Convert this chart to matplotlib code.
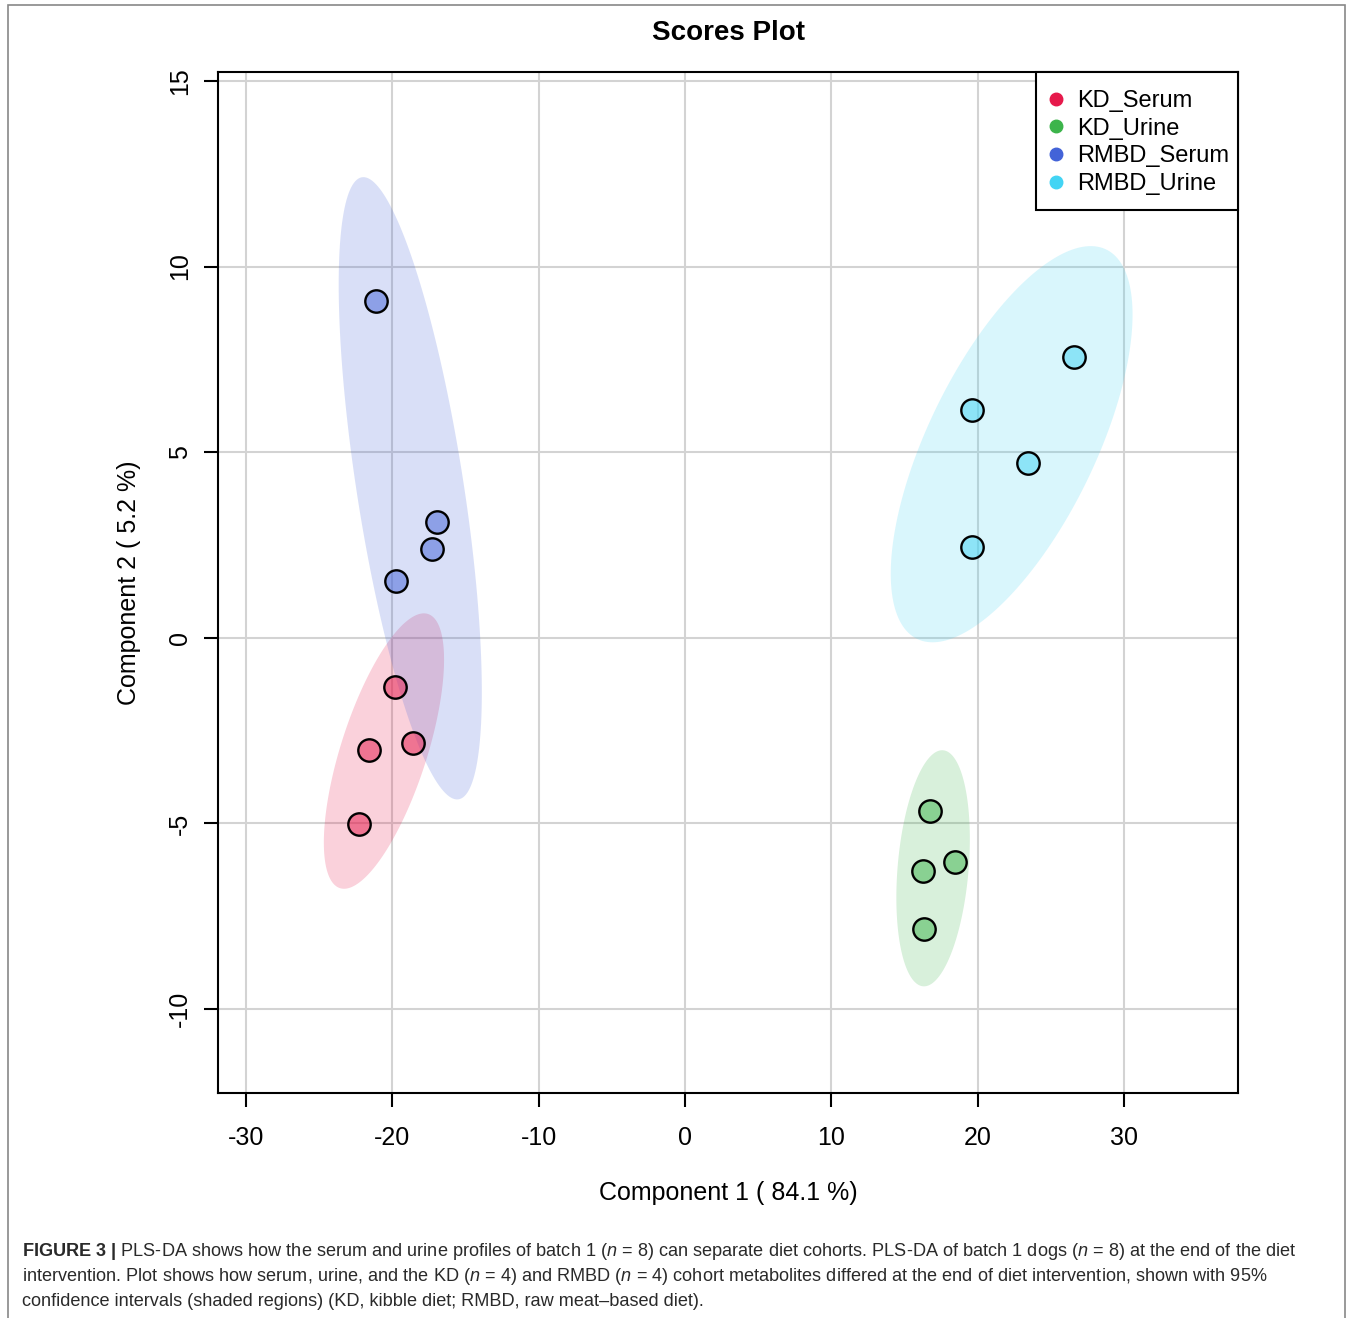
import numpy as np
import matplotlib
matplotlib.use("Agg")
import matplotlib.pyplot as plt
from matplotlib import font_manager as fm
from matplotlib.patches import Rectangle
from matplotlib.lines import Line2D

# ---- data ----
groups = ["KD_Serum", "KD_Urine", "RMBD_Serum", "RMBD_Urine"]
colors = ["#E6194B", "#3CB44B", "#4363D8", "#42D4F4"]
kd_serum_x = [-19.82, -21.59, -18.59, -22.28]
kd_serum_y = [-1.33, -3.02, -2.83, -5.02]
kd_urine_x = [16.75, 18.46, 16.27, 16.34]
kd_urine_y = [-4.67, -6.04, -6.28, -7.84]
rmbd_serum_x = [-21.11, -16.94, -17.29, -19.75]
rmbd_serum_y = [9.07, 3.12, 2.39, 1.53]
rmbd_urine_x = [26.6, 19.62, 23.45, 19.62]
rmbd_urine_y = [7.56, 6.14, 4.71, 2.45]
xticks = [-30, -20, -10, 0, 10, 20, 30]
yticks = [-10, -5, 0, 5, 10, 15]
title = "Scores Plot"
xlabel = "Component 1 ( 84.1 %)"
ylabel = "Component 2 ( 5.2 %)"

series_x = [kd_serum_x, kd_urine_x, rmbd_serum_x, rmbd_urine_x]
series_y = [kd_serum_y, kd_urine_y, rmbd_serum_y, rmbd_urine_y]

names = {f.name for f in fm.fontManager.ttflist}
main_font = "Liberation Sans" if "Liberation Sans" in names else "DejaVu Sans"
cap_font = "Liberation Sans Narrow" if "Liberation Sans Narrow" in names else main_font
plt.rcParams["font.family"] = [main_font, "DejaVu Sans"]
plt.rcParams["axes.unicode_minus"] = False

W, H = 1347, 1318
fig = plt.figure(figsize=(W/100, H/100), dpi=100)
ax = fig.add_axes([218/W, 1-1093/H, (1238-218)/W, (1093-72)/H])

ax.set_xlim(-31.91, 37.79)
ax.set_ylim(-12.26, 15.24)

for v in xticks:
    ax.axvline(v, color="#D3D3D3", lw=1.5, zorder=0)
for v in yticks:
    ax.axhline(v, color="#D3D3D3", lw=1.5, zorder=0)

t = np.sqrt(-2*np.log(1-0.95))  # sqrt(qchisq(0.95, 2))
theta = np.linspace(0, 2*np.pi, 200)
for xs, ys, c in zip(series_x, series_y, colors):
    pts = np.column_stack([xs, ys])
    mu = pts.mean(axis=0)
    cov = np.cov(pts.T)
    w, v = np.linalg.eigh(cov)
    circ = np.vstack([np.cos(theta), np.sin(theta)])
    ell = (v @ np.diag(np.sqrt(w)) @ circ) * t
    ax.fill(ell[0] + mu[0], ell[1] + mu[1], color=c, alpha=0.2, lw=0, zorder=1)

for xs, ys, c in zip(series_x, series_y, colors):
    ax.scatter(xs, ys, s=260, facecolor=matplotlib.colors.to_rgba(c, 0.5),
               edgecolor="black", linewidth=1.7, zorder=3)

ax.set_xticks(xticks)
ax.set_yticks(yticks)
ax.set_yticklabels([str(v) for v in yticks], rotation=90, va="center")
ax.tick_params(axis="both", length=10, width=1.5, labelsize=18, direction="out")
ax.tick_params(axis="x", pad=14)
ax.tick_params(axis="y", pad=8.5)
for s in ax.spines.values():
    s.set_linewidth(1.5)

ax.set_title(title, fontsize=20, fontweight="bold", pad=23)
ax.set_xlabel(xlabel, fontsize=18, labelpad=22)
ax.set_ylabel(ylabel, fontsize=18, labelpad=20)

# legend frame (R-style box) and entries
frame = Rectangle((1036/W, 1-210/H), (1238-1036)/W, (210-72)/H, transform=fig.transFigure,
                  fc="white", ec="black", lw=1.5, zorder=4, clip_on=False)
ax.add_patch(frame)
handles = [Line2D([], [], marker="o", ls="", color=c, markersize=9) for c in colors]
leg = ax.legend(handles, groups, loc="upper left", bbox_to_anchor=(1046/W, 1-90/H),
                bbox_transform=fig.transFigure, borderaxespad=0, borderpad=0,
                frameon=False, fontsize=17, handlelength=0.85, handletextpad=0.48,
                labelspacing=0.24)
leg.set_zorder(5)

# figure border
fig.patches.append(Rectangle((8/W, -0.01), (1345-8)/W, 1.01-5/H,
                             transform=fig.transFigure, fill=False, ec="#888888", lw=1.2))

plt.rcParams["mathtext.fontset"] = "custom"
plt.rcParams["mathtext.rm"] = cap_font
plt.rcParams["mathtext.it"] = cap_font + ":italic"
plt.rcParams["mathtext.bf"] = cap_font + ":bold"

lines = [
    r"$\mathbf{FIGURE\ 3\ |}$ PLS-DA shows how the serum and urine profiles of batch 1 ($\mathit{n}$ = 8) can separate diet cohorts. PLS-DA of batch 1 dogs ($\mathit{n}$ = 8) at the end of the diet",
    r"intervention. Plot shows how serum, urine, and the KD ($\mathit{n}$ = 4) and RMBD ($\mathit{n}$ = 4) cohort metabolites differed at the end of diet intervention, shown with 95%",
    r"confidence intervals (shaded regions) (KD, kibble diet; RMBD, raw meat–based diet).",
]
for i, ln in enumerate(lines):
    fig.text(22/W, 1-(1251+25.5*i)/H, ln, fontsize=13.05, family=[cap_font, "DejaVu Sans"],
             va="center", ha="left", color="#2a2a2a")

fig.savefig("out.png", dpi=100)
